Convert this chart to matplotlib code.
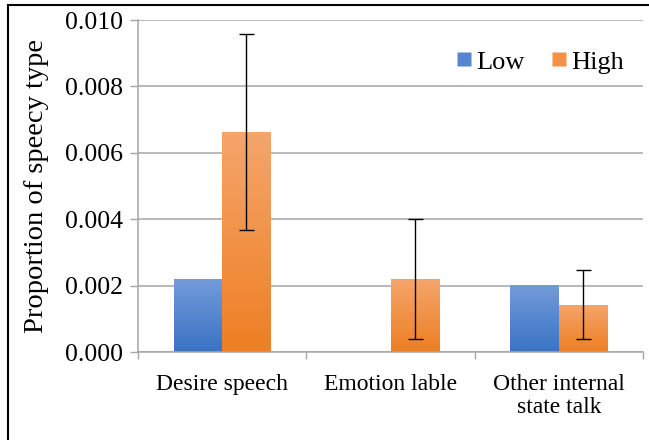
"""
Proportion of speech type by group (Low / High), Excel-style bar chart.
"""
import numpy as np
import matplotlib
matplotlib.use('Agg')
import matplotlib.pyplot as plt
from matplotlib.lines import Line2D
from matplotlib.patches import Rectangle
from matplotlib.colors import LinearSegmentedColormap

plt.rcParams['font.family'] = 'serif'
plt.rcParams['font.serif'] = ['Liberation Serif', 'Times New Roman', 'DejaVu Serif']
FONT = 'Liberation Serif'

# ---------- Data ----------
categories = ['Desire speech', 'Emotion lable', 'Other internal\nstate talk']
low_vals   = [0.0022, 0.0, 0.00202]
high_vals  = [0.00663, 0.0022, 0.00142]
high_err   = [0.00295, 0.0018, 0.00104]
series     = ['Low', 'High']
yticks     = [0.000, 0.002, 0.004, 0.006, 0.008, 0.010]

# ---------- Style ----------
BLUE_TOP, BLUE_BOT = '#739bd9', '#3b73c5'
ORNG_TOP, ORNG_BOT = '#f5a56c', '#ee7f22'
GRID = '#a6a6a6'
W = 0.288

fig = plt.figure(figsize=(6.49, 4.40), dpi=100)
ax = fig.add_axes([138/649, 1-352/440, (643-138)/649, (352-20)/440])


def gradient_bar(x0, h, c_top, c_bot):
    if h <= 0:
        return
    rect = Rectangle((x0, 0), W, h, facecolor=c_bot, edgecolor='none', zorder=2)
    ax.add_patch(rect)
    cmap = LinearSegmentedColormap.from_list('g', [c_bot, c_top])
    grad = np.linspace(0, 1, 64).reshape(-1, 1)
    im = ax.imshow(grad, cmap=cmap, origin='lower', aspect='auto',
                   extent=(x0, x0 + W, 0, h), zorder=2.1)
    im.set_clip_path(rect)


x = np.arange(len(categories))
for i in range(len(categories)):
    gradient_bar(x[i] - W, low_vals[i], BLUE_TOP, BLUE_BOT)
    gradient_bar(x[i], high_vals[i], ORNG_TOP, ORNG_BOT)

ax.errorbar(x + W/2, high_vals, yerr=high_err, fmt='none', ecolor='black',
            elinewidth=1.0, capsize=5.4, capthick=1.0, zorder=4)

ax.set_xlim(-0.5, 2.5)
ax.set_ylim(0, 0.010)

# gridlines
ax.set_yticks(yticks)
ax.set_yticklabels([f'{v:.3f}' for v in yticks], fontfamily=FONT, fontsize=18.5)
ax.yaxis.grid(True, color=GRID, linewidth=1.1, zorder=0)
ax.set_axisbelow(True)

# category boundaries as major ticks, labels on minor ticks
ax.set_xticks([-0.5, 0.5, 1.5, 2.5])
ax.set_xticklabels([])
ax.set_xticks(x, minor=True)
ax.set_xticklabels(categories, minor=True, fontsize=17, linespacing=1.08,
                   fontfamily=FONT)
ax.tick_params(axis='x', which='major', direction='out', length=5, color=GRID, width=1)
ax.tick_params(axis='x', which='minor', length=0, pad=16)
ax.tick_params(axis='y', direction='out', length=6, color=GRID, width=1, pad=5)

for s in ['top', 'right']:
    ax.spines[s].set_visible(False)
for s in ['left', 'bottom']:
    ax.spines[s].set_color(GRID)
    ax.spines[s].set_linewidth(1.1)

ax.set_ylabel('Proportion of speecy type', fontsize=20.5, labelpad=11, fontfamily=FONT)

# legend
handles = [
    Line2D([0], [0], marker='s', linestyle='none', markersize=10,
           markerfacecolor='#5586cf', markeredgecolor='none', label=series[0]),
    Line2D([0], [0], marker='s', linestyle='none', markersize=10,
           markerfacecolor='#f39146', markeredgecolor='none', label=series[1]),
]
fig.legend(handles=handles, loc='center', bbox_to_anchor=(540/649, 1-62/440),
           ncol=2, frameon=False, prop={'family': FONT, 'size': 19},
           handlelength=0.6, handletextpad=0.15, columnspacing=1.0, borderpad=0)

# outer frame (cropped on right / bottom)
fig.add_artist(Rectangle((8/649, -0.2), 1.5, 1.2 - 5/440, transform=fig.transFigure,
                         fill=False, edgecolor='black', linewidth=1.5))

fig.savefig('out.png', dpi=100, facecolor='white')
